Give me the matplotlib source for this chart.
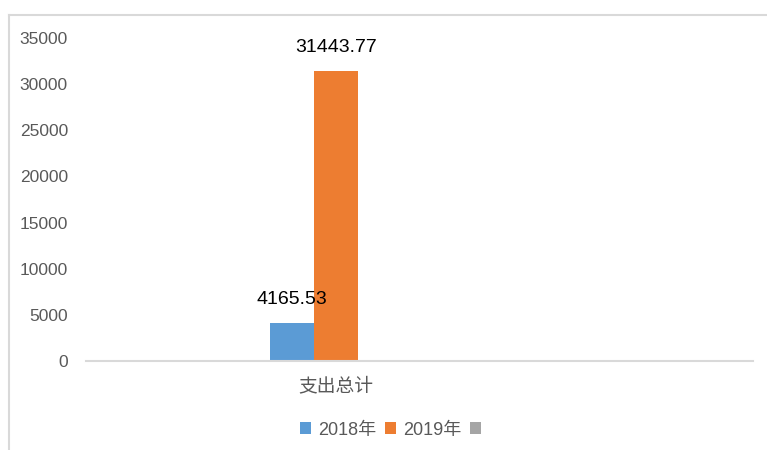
import matplotlib
matplotlib.use("Agg")
import matplotlib.pyplot as plt
from matplotlib.patches import Patch
from matplotlib.lines import Line2D
import numpy as np

plt.rcParams['font.family'] = ['Liberation Sans', 'Noto Sans CJK SC', 'DejaVu Sans']

categories = ["支出总计"]
series_names = ["2018年", "2019年", ""]
values_2018 = [4165.53]
values_2019 = [31443.77]
values_3 = [np.nan]
colors = ["#5b9bd5", "#ed7d31", "#a5a5a5"]
yticks = [0, 5000, 10000, 15000, 20000, 25000, 30000, 35000]

W, H = 767, 450
fig = plt.figure(figsize=(W / 100, H / 100), dpi=100)
ax = fig.add_axes([86 / W, 1 - 361 / H, (753 - 86) / W, (361 - 38) / H])

x = np.arange(len(categories))
bw = 1.0
all_vals = [values_2018, values_2019, values_3]
offsets = [-1, 0, 1]
for vals, off, c, name in zip(all_vals, offsets, colors, series_names):
    bars = ax.bar(x + off * bw, vals, width=bw, color=c, zorder=2)
    for b, v in zip(bars, vals):
        if not np.isnan(v):
            ax.annotate(f"{v:.2f}", (b.get_x() + b.get_width() / 2, v),
                        xytext=(0, 23), textcoords="offset pixels",
                        ha="center", va="center", fontsize=14, color="black")

ax.set_xlim(-5.68, 9.48)
ax.set_ylim(0, 35000)
ax.set_yticks(yticks)
ax.set_yticklabels([str(t) for t in yticks])
ax.set_xticks(x)
ax.set_xticklabels(categories, fontsize=13.5, color="#595959")
ax.tick_params(axis='y', length=0, labelsize=12.5, labelcolor="#595959", pad=13)
ax.tick_params(axis='x', length=0, pad=12)
for s in ["top", "right", "left"]:
    ax.spines[s].set_visible(False)
ax.spines["bottom"].set_color("#d9d9d9")
ax.spines["bottom"].set_linewidth(1.5)

# chart border (partially cropped)
fig.add_artist(Line2D([9 / W, 9 / W], [-0.1, 1 - 15 / H], color="#d9d9d9", lw=1.5,
                      transform=fig.transFigure))
fig.add_artist(Line2D([9 / W, 1.1], [1 - 15 / H, 1 - 15 / H], color="#d9d9d9", lw=1.5,
                      transform=fig.transFigure))

handles = [Patch(facecolor=c, edgecolor="none") for c in colors]
fig.legend(handles, series_names, loc="center", bbox_to_anchor=(394 / W, 1 - 430 / H),
           ncol=3, frameon=False, fontsize=13, labelcolor="#595959",
           handlelength=0.6, handleheight=0.6, handletextpad=0.4, columnspacing=0.5)

fig.savefig("out.png", dpi=100)
